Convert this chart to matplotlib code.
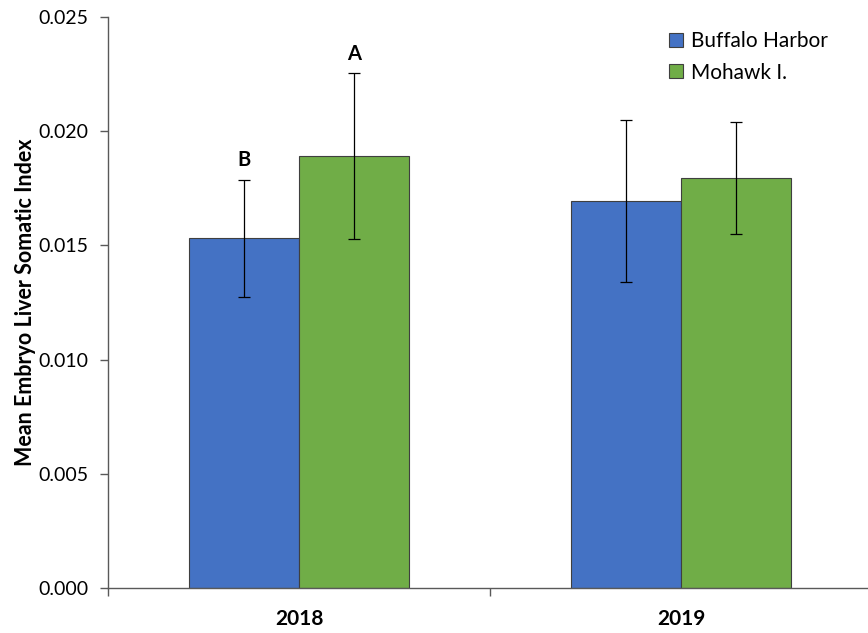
import matplotlib
matplotlib.use("Agg")
import matplotlib.pyplot as plt
import numpy as np
from matplotlib.ticker import FixedLocator, FormatStrFormatter

years = ["2018", "2019"]
series = ["Buffalo Harbor", "Mohawk I."]
buffalo = [0.01532, 0.01694]
mohawk = [0.01891, 0.01795]
buffalo_err = [0.00256, 0.00355]
mohawk_err = [0.00362, 0.00245]
letters_buffalo = ["B", ""]
letters_mohawk = ["A", ""]

colors = ["#4472C4", "#70AD47"]
plt.rcParams["font.family"] = ["Lato", "DejaVu Sans"]

fig = plt.figure(figsize=(8.68, 6.33), dpi=100)
ax = fig.add_axes([108 / 868, 45 / 633, 764 / 868, 571 / 633])

x = np.arange(len(years))
w = 0.287
for vals, errs, col, lab, letters, off in [
    (buffalo, buffalo_err, colors[0], series[0], letters_buffalo, -w / 2),
    (mohawk, mohawk_err, colors[1], series[1], letters_mohawk, w / 2),
]:
    ax.bar(x + off, vals, width=w, color=col, edgecolor="#3f3f3f", linewidth=0.8,
           label=lab, zorder=2)
    ax.errorbar(x + off, vals, yerr=errs, fmt="none", ecolor="black", elinewidth=0.9,
                capsize=4, capthick=0.9, zorder=3)
    for xi, v, e, t in zip(x + off, vals, errs, letters):
        if t:
            ax.text(xi, v + e + 0.0004, t, ha="center", va="bottom",
                    fontsize=14.5, fontweight="bold")

ax.set_xlim(-0.5, 1.5)
ax.set_ylim(0, 0.025)
ax.set_yticks(np.arange(0, 0.0251, 0.005))
ax.yaxis.set_major_formatter(FormatStrFormatter("%.3f"))
ax.set_xticks(x)
ax.set_xticklabels(years, fontsize=15, fontweight="bold")
ax.xaxis.set_minor_locator(FixedLocator([-0.5, 0.5, 1.5]))
ax.tick_params(axis="x", which="major", length=0, pad=15)
ax.tick_params(axis="x", which="minor", length=6, color="#595959", width=1)
ax.tick_params(axis="y", length=6, color="#595959", width=1, labelsize=14, pad=8)

for s in ["top", "right"]:
    ax.spines[s].set_visible(False)
for s in ["left", "bottom"]:
    ax.spines[s].set_color("#595959")
    ax.spines[s].set_linewidth(1)

ax.set_ylabel("Mean Embryo Liver Somatic Index", fontsize=15.5, fontweight="bold", labelpad=2)

leg = ax.legend(loc="upper left", bbox_to_anchor=(0.71, 1.008), frameon=False,
                fontsize=15, handlelength=0.65, handleheight=0.65,
                handletextpad=0.4, labelspacing=0.55)

fig.savefig("out.png", dpi=100)
